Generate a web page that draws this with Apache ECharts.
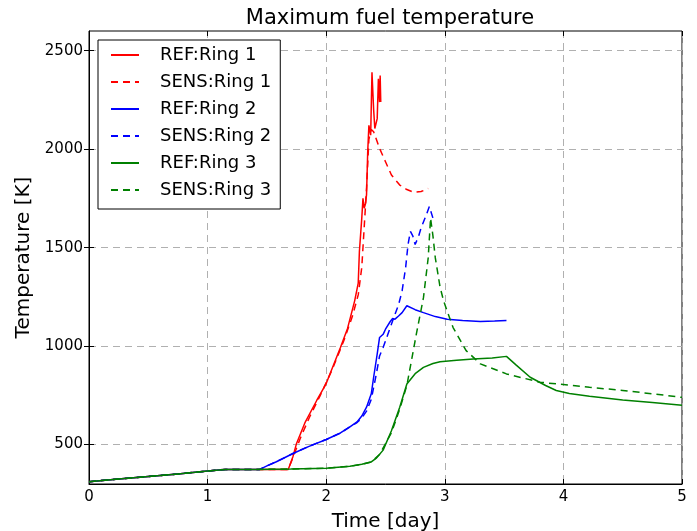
<!DOCTYPE html>
<html><head><meta charset="utf-8">
<script src="https://cdn.jsdelivr.net/npm/echarts@6/dist/echarts.min.js"></script>
<style>html,body{margin:0;padding:0;background:#fff}#c{width:697px;height:531px}</style>
</head><body><div id="c"></div>
<script>
const xTicks = [0, 1, 2, 3, 4, 5];
const yTicks = [500, 1000, 1500, 2000, 2500];

const ref1Time = [0,0.25,0.5,0.75,1.0,1.15,1.4,1.68,1.72,1.75,1.82,1.92,2.0,2.12,2.18,2.24,2.27,2.28,2.30,2.31,2.32,2.33,2.34,2.35,2.36,2.375,2.386,2.40,2.41,2.43,2.44,2.45,2.455,2.46];
const ref1Temp = [312,325,338,351,366,374,374,374,440,506,610,724,810,993,1090,1230,1320,1482,1650,1751,1700,1720,1768,1987,2121,2071,2391,2200,2105,2155,2357,2239,2374,2239];

const sens1Time = [0,0.25,0.5,0.75,1.0,1.15,1.4,1.68,1.73,1.78,1.86,1.95,2.05,2.15,2.22,2.27,2.30,2.32,2.34,2.36,2.38,2.40,2.45,2.50,2.55,2.62,2.68,2.74,2.80,2.86];
const sens1Temp = [312,325,338,351,366,374,374,374,450,530,640,750,880,1030,1150,1260,1400,1600,1800,2050,2100,2088,2004,1936,1869,1818,1795,1781,1785,1800];

const ref2Time = [0,0.25,0.5,0.75,1.0,1.15,1.44,1.5,1.58,1.72,1.85,2.0,2.12,2.2,2.26,2.3,2.34,2.38,2.40,2.43,2.45,2.48,2.50,2.54,2.56,2.58,2.61,2.64,2.68,2.75,2.82,2.92,3.02,3.15,3.30,3.42,3.52];
const ref2Temp = [312,325,338,351,366,374,374,392,413,455,490,526,559,590,615,645,690,758,842,960,1044,1060,1086,1125,1140,1137,1153,1170,1205,1185,1170,1150,1137,1130,1125,1127,1130];

const sens2Time = [0,0.25,0.5,0.75,1.0,1.15,1.44,1.5,1.58,1.72,1.85,2.0,2.12,2.2,2.26,2.3,2.34,2.38,2.42,2.45,2.48,2.52,2.57,2.61,2.64,2.67,2.69,2.71,2.73,2.75,2.78,2.80,2.84,2.87,2.90];
const sens2Temp = [312,325,338,351,366,374,374,392,413,455,490,526,559,590,612,635,670,730,850,950,993,1060,1145,1210,1280,1400,1516,1583,1560,1516,1560,1600,1660,1709,1650];

const ref3Time = [0,0.25,0.5,0.75,1.0,1.15,1.4,1.7,2.0,2.2,2.3,2.38,2.42,2.48,2.55,2.62,2.68,2.75,2.82,2.9,2.96,3.1,3.24,3.4,3.52,3.6,3.72,3.85,3.94,4.05,4.22,4.5,4.75,5.0];
const ref3Temp = [312,325,338,351,366,374,374,376,380,390,400,412,430,472,570,690,808,860,892,912,921,928,935,940,948,905,842,800,775,760,746,727,714,700];

const sens3Time = [0,0.25,0.5,0.75,1.0,1.15,1.4,1.7,2.0,2.2,2.3,2.38,2.45,2.55,2.62,2.68,2.72,2.76,2.82,2.86,2.88,2.9,2.92,2.96,2.99,3.07,3.18,3.3,3.52,3.8,4.22,4.5,4.75,5.0];
const sens3Temp = [312,325,338,351,366,374,374,376,380,390,400,412,450,560,680,800,930,1061,1246,1448,1650,1560,1448,1300,1229,1094,977,910,859,817,791,775,758,740];

function zip(t, v) { const n = Math.min(t.length, v.length); const o = []; for (let i = 0; i < n; i++) o.push([t[i], v[i]]); return o; }

const FONT = 'DejaVu Sans';
const RED = '#ff0000', BLUE = '#0000ff', GREEN = '#008000';
function line(name, t, v, color, dashed) {
  return {
    name, type: 'line', data: zip(t, v), showSymbol: false, symbol: 'none', animation: false,
    lineStyle: { color, width: 1.5, type: dashed ? [7, 5] : 'solid' },
    itemStyle: { color }
  };
}

const chart = echarts.init(document.getElementById('c'), null, { renderer: 'canvas' });
const gridLine = { show: true, lineStyle: { color: '#b0b0b0', type: [7, 5], width: 1 } };
chart.setOption({
  backgroundColor: '#fff',
  animation: false,
  textStyle: { fontFamily: FONT },
  title: {
    text: 'Maximum fuel temperature', left: 385, top: 3, textAlign: 'center',
    textStyle: { fontFamily: FONT, fontSize: 21, fontWeight: 'normal', color: '#000' }
  },
  grid: { left: 89, right: 15, top: 31, bottom: 47, outerBoundsMode: 'none', containLabel: false,
          show: true, borderColor: '#000', borderWidth: 1, backgroundColor: 'transparent' },
  legend: {
    orient: 'vertical', left: 98, top: 40,
    itemWidth: 28, itemHeight: 14, itemGap: 9,
    padding: [6, 9, 10, 12],
    backgroundColor: '#fff', borderColor: '#000', borderWidth: 1,
    itemStyle: { opacity: 0 },
    textStyle: { fontFamily: FONT, fontSize: 18, color: '#000', padding: [0, 0, 0, 16] },
    data: ['REF:Ring 1', 'SENS:Ring 1', 'REF:Ring 2', 'SENS:Ring 2', 'REF:Ring 3', 'SENS:Ring 3']
  },
  xAxis: [{
    type: 'value', min: xTicks[0], max: xTicks[xTicks.length - 1], interval: 1,
    name: 'Time [day]', nameLocation: 'middle', nameGap: 28,
    nameTextStyle: { fontFamily: FONT, fontSize: 20, color: '#000' },
    axisLine: { show: true, onZero: false, lineStyle: { color: '#000' } },
    axisTick: { show: true, inside: true, length: 5, lineStyle: { color: '#000' } },
    axisLabel: { fontFamily: FONT, fontSize: 15, color: '#000', margin: 6 },
    splitLine: gridLine
  }, {
    type: 'value', position: 'top', min: xTicks[0], max: xTicks[xTicks.length - 1], interval: 1,
    axisLine: { show: false }, axisLabel: { show: false },
    axisTick: { show: true, inside: true, length: 5, lineStyle: { color: '#000' } },
    splitLine: { show: false }
  }],
  yAxis: [{
    type: 'value', min: 300, max: 2600,
    name: 'Temperature [K]', nameLocation: 'middle', nameGap: 43,
    nameTextStyle: { fontFamily: FONT, fontSize: 20, color: '#000' },
    axisLine: { show: true, onZero: false, lineStyle: { color: '#000' } },
    axisTick: { show: true, inside: true, length: 5, customValues: yTicks, lineStyle: { color: '#000' } },
    axisLabel: { fontFamily: FONT, fontSize: 15, color: '#000', margin: 6, customValues: yTicks, formatter: v => String(v) },
    splitLine: gridLine
  }, {
    type: 'value', position: 'right', min: 300, max: 2600,
    axisLine: { show: false }, axisLabel: { show: false },
    axisTick: { show: true, inside: true, length: 5, customValues: yTicks, lineStyle: { color: '#000' } },
    splitLine: { show: false }
  }],
  series: [
    line('REF:Ring 1', ref1Time, ref1Temp, RED, false),
    line('SENS:Ring 1', sens1Time, sens1Temp, RED, true),
    line('REF:Ring 2', ref2Time, ref2Temp, BLUE, false),
    line('SENS:Ring 2', sens2Time, sens2Temp, BLUE, true),
    line('REF:Ring 3', ref3Time, ref3Temp, GREEN, false),
    line('SENS:Ring 3', sens3Time, sens3Temp, GREEN, true)
  ]
});
</script></body></html>
